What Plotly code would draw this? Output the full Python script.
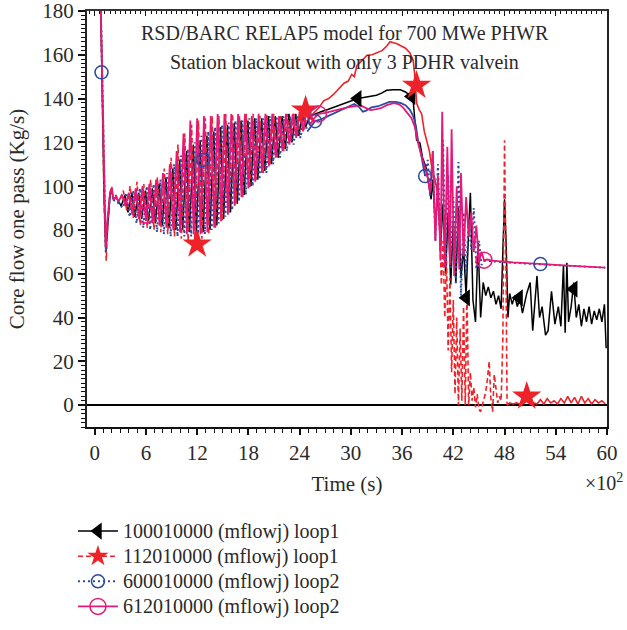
import plotly.graph_objects as go

FONT = "Liberation Serif"
TXT = "#2a2a2a"

# ---------------- data (time in units of 100 s; axis multiplier x10^2) ----------------
x_ticks_dtick = 6
y_ticks_dtick = 20
legend_names = ["100010000 (mflowj) loop1", "112010000 (mflowj) loop1",
                "600010000 (mflowj) loop2", "612010000 (mflowj) loop2"]

# --- 100010000 loop1 (black) ---
black_t_start = [0.7, 0.9, 1.1, 1.3, 1.5, 1.8, 2.0, 2.2, 2.5, 2.8]
black_v_start = [185, 140, 95, 70, 82, 96, 98, 94, 95, 93]
black_t_osc = [3.1, 3.55, 3.9, 4.35, 4.7, 5.15, 5.5, 5.95, 6.3, 6.75, 7.1, 7.55, 7.9, 8.35,
               8.7, 9.15, 9.5, 9.95, 10.3, 10.75, 11.1, 11.55, 11.9, 12.35, 12.7, 13.15,
               13.5, 13.95, 14.3, 14.75, 15.1, 15.55, 15.9, 16.35, 16.7, 17.15, 17.5, 17.95,
               18.3, 18.75, 19.1, 19.55, 19.9, 20.35, 20.7, 21.15, 21.5, 21.95, 22.3, 22.75,
               23.1, 23.55, 23.9, 24.35, 24.7]
black_v_osc = [91, 96, 88, 97, 86, 97, 85, 98, 84, 99, 83, 101, 82, 104, 81, 108, 80, 112,
               80, 116, 79, 119, 79, 121, 79, 123, 80, 125, 82, 127, 85, 128, 88, 129, 92, 130,
               96, 130, 100, 131, 103, 131, 107, 132, 110, 132, 113, 132, 117, 133, 120, 133,
               123, 133, 127]
black_t_late = [25.2, 25.8, 26.5, 27.3, 28.0, 28.8, 29.6, 30.4, 30.8, 31.5, 32.3, 33.0, 33.6,
                34.2, 35.0, 35.8, 36.4, 36.9, 37.3, 37.5, 37.7, 38.1, 38.4, 38.8,
                39.1, 39.4, 39.6, 39.9, 40.2, 40.5, 40.8, 41.1, 41.4, 41.7,
                42.0, 42.3, 42.6, 42.9, 43.2, 43.5, 43.8, 44.0, 44.3, 44.6,
                44.9, 45.2, 45.5, 45.8, 46.1, 46.4, 46.7, 47.0, 47.3, 47.6,
                47.8, 48.0, 48.2, 48.4, 48.6, 48.9, 49.2, 49.5, 49.8, 50.1,
                50.6, 51.0, 51.3, 51.8, 52.1, 52.4, 52.8, 53.1, 53.5, 53.9,
                54.3, 54.6, 54.9, 55.1, 55.3, 55.5, 55.8, 56.1, 56.4, 56.7,
                57.0, 57.3, 57.6, 57.9, 58.2, 58.5, 58.8, 59.1, 59.4, 59.7, 59.9]
black_v_late = [132, 133, 134, 135, 136, 137, 138.5, 139.5, 140, 140.5, 141, 141.5, 142.5,
                143.8, 144, 144, 143, 141.5, 139, 130, 121, 119.6, 113, 108.7,
                101, 94, 103, 82, 98, 72, 92, 60, 88, 55,
                84, 56, 90, 58, 72, 50, 80, 97, 48, 38,
                74, 40, 56, 50, 54, 49, 52, 46, 50, 44,
                70, 94, 72, 40, 51, 46, 50, 45, 49, 42,
                51, 56, 34, 59, 40, 45, 32, 34, 52, 37,
                45, 36, 64, 33, 65, 38, 45, 56, 40, 46,
                36, 44, 38, 45, 37, 43, 39, 44, 38, 46, 26]
black_mk_t = [30.8, 37.1, 43.5, 49.7, 56.1]
black_mk_v = [140, 141, 49, 49, 53]

# --- 112010000 loop1 (red) ---
red_t_start = [0.7, 0.9, 1.1, 1.35, 1.55, 1.8, 2.0, 2.2, 2.5, 2.8]
red_v_start = [185, 140, 92, 66, 84, 97, 100, 94, 96, 92]
red_t_osc = [3.35, 3.75, 4.15, 4.55, 4.95, 5.35, 5.75, 6.15, 6.55, 6.95, 7.35, 7.75, 8.15,
             8.55, 8.95, 9.35, 9.75, 10.15, 10.55, 10.95, 11.35, 11.75, 12.15, 12.55, 12.95,
             13.35, 13.75, 14.15, 14.55, 14.95, 15.35, 15.75, 16.15, 16.55, 16.95, 17.35,
             17.75, 18.15, 18.55, 18.95, 19.35, 19.75, 20.15, 20.55, 20.95, 21.35, 21.75,
             22.15, 22.55, 22.95, 23.35, 23.75, 24.15, 24.55, 24.95]
red_v_osc = [98, 89, 100, 85, 102, 82, 101, 81, 103, 80, 104, 79, 108, 78, 113, 77, 119, 76,
             124, 75, 128, 74, 130, 76, 131, 78, 132, 81, 132, 84, 133, 88, 133, 92, 132, 95,
             133, 99, 133, 103, 132, 106, 133, 110, 133, 113, 132, 116, 133, 120, 133, 123,
             134, 126, 134]
red_t_late = [25.3, 25.8, 26.3, 26.8, 27.4, 28.0, 28.6, 29.2, 29.7, 30.1, 30.4, 30.7, 31.2,
              31.9, 32.5, 33.2, 33.7, 34.2, 34.6, 35.0, 35.4, 35.9, 36.4, 36.9, 37.3, 37.5,
              37.7, 38.0, 38.3, 38.6, 38.9, 39.2, 39.5, 39.8, 40.1]
red_v_late = [132, 134, 136, 139, 140, 142, 144.7, 147, 148, 151, 150, 155, 157, 159.8, 160,
              161, 162, 164, 166, 165.5, 165, 164, 163, 161, 157.5, 150, 138, 135, 133, 125,
              120, 116, 108, 104, 98]
red_t_drop = [40.4, 40.6, 40.8, 41.0, 41.2, 41.4, 41.6, 41.8, 42.0, 42.2,
              42.4, 42.6, 42.8, 43.0, 43.2, 43.4, 43.6, 43.8, 44.0, 44.2,
              44.4, 44.6, 44.8, 45.0, 45.2, 45.4, 45.6, 45.8, 46.0, 46.2,
              46.4, 46.6, 46.8, 47.0, 47.2, 47.4, 47.6, 47.8, 48.0, 48.15, 48.3]
red_v_drop = [82, 55, 75, 40, 68, 25, 58, 15, 48, 5,
              40, 0, 35, 2, 45, 0, 52, 0, 15, 2,
              8, -1, 5, -2, -3, 0, 3, 6, 12, 20,
              3, -3, 14, 8, 1, 4, 2, 30, 121, 70, 0]
red_t_tail = [48.6, 49.0, 49.4, 49.8, 50.2, 50.6, 51.0, 51.4, 51.8, 52.2,
              52.6, 53.0, 53.4, 53.8, 54.2, 54.6, 55.0, 55.4, 55.8, 56.2,
              56.6, 57.0, 57.4, 57.8, 58.2, 58.6, 59.0, 59.4, 59.8]
red_v_tail = [1, 0.5, 1, 0.5, 1.5, 2, 0.5, 1, 0.5, 2.5,
              0.5, 3, 1, 2, 0.5, 3, 1, 4, 1, 3.5,
              0.5, 4, 1, 3, 0.5, 2.5, 1, 2, 0.5]
red_mk_t = [12.0, 24.7, 37.7, 50.6]
red_mk_v = [73.5, 134.7, 146, 4]

# --- 600010000 loop2 (blue) ---
blue_t_start = [0.7, 0.9, 1.1, 1.3, 1.5, 1.8, 2.0, 2.2, 2.5, 2.8]
blue_v_start = [185, 150, 100, 70, 83, 96, 98, 93, 95, 92]
blue_t_osc = [3.3, 3.7, 4.1, 4.5, 4.9, 5.3, 5.7, 6.1, 6.5, 6.9, 7.3, 7.7, 8.1, 8.5, 8.9, 9.3,
              9.7, 10.1, 10.5, 10.9, 11.3, 11.7, 12.1, 12.5, 12.9, 13.3, 13.7, 14.1, 14.5,
              14.9, 15.3, 15.7, 16.1, 16.5, 16.9, 17.3, 17.7, 18.1, 18.5, 18.9, 19.3, 19.7,
              20.1, 20.5, 20.9, 21.3, 21.7, 22.1, 22.5, 22.9, 23.3, 23.7, 24.1, 24.5, 24.9]
blue_v_osc = [90, 97, 86, 98, 83, 99, 81, 100, 80, 101, 79, 103, 78, 106, 77, 110, 77, 114,
              77, 117, 77, 120, 77, 123, 78, 125, 80, 127, 83, 128, 86, 129, 89, 130, 93, 130,
              96, 131, 100, 131, 103, 131, 106, 132, 110, 132, 113, 132, 116, 132, 119, 132,
              122, 132, 125]
blue_t_late = [25.3, 25.8, 26.5, 27.3, 28.0, 28.8, 29.6, 30.4, 31.0, 31.4, 31.8, 32.4, 33.2,
               33.8, 34.5, 35.2, 35.8, 36.4, 36.9, 37.3, 37.6, 37.9, 38.2, 38.7]
blue_v_late = [127, 129.7, 130.5, 132, 133, 134.5, 136, 137.5, 136, 134, 134.5, 136, 136.5,
               137.5, 138.5, 138.5, 138, 137, 135, 132, 128, 120, 115, 104.6]
blue_t_drop = [39.0, 39.3, 39.6, 39.9, 40.2, 40.5, 40.8, 41.1, 41.4, 41.7,
               42.0, 42.3, 42.6, 42.9, 43.2, 43.5, 43.8, 44.1, 44.4, 44.7, 45.0, 45.3, 45.6]
blue_v_drop = [112, 95, 116, 75, 110, 70, 121, 63, 105, 62,
               95, 55, 111, 50, 88, 60, 85, 71, 90, 62, 75, 64, 66]
blue_t_tail = [46.0, 47.0, 48.0, 49.0, 50.0, 51.0, 52.2, 53.0, 54.0, 55.0, 56.0, 57.0, 58.0,
               59.0, 59.8]
blue_v_tail = [65.8, 65.5, 65.2, 64.9, 64.7, 64.5, 64.3, 64.1, 63.9, 63.7, 63.5, 63.3, 63.1,
               62.9, 62.8]
blue_mk_t = [0.8, 12.7, 25.8, 38.7, 52.2]
blue_mk_v = [152, 112, 129.7, 104.6, 64.4]

# --- 612010000 loop2 (pink) ---
pink_t_start = [0.7, 0.9, 1.1, 1.3, 1.5, 1.8, 2.0, 2.2, 2.5, 2.8]
pink_v_start = [185, 145, 98, 72, 85, 97, 99, 94, 95, 93]
pink_t_osc = [3.2, 3.6, 4.0, 4.4, 4.8, 5.2, 5.6, 6.0, 6.4, 6.8, 7.2, 7.6, 8.0, 8.4, 8.8, 9.2,
              9.6, 10.0, 10.4, 10.8, 11.2, 11.6, 12.0, 12.4, 12.8, 13.2, 13.6, 14.0, 14.4,
              14.8, 15.2, 15.6, 16.0, 16.4, 16.8, 17.2, 17.6, 18.0, 18.4, 18.8, 19.2, 19.6,
              20.0, 20.4, 20.8, 21.2, 21.6, 22.0, 22.4, 22.8, 23.2, 23.6, 24.0, 24.4, 24.8, 25.2]
pink_v_osc = [96, 91, 97, 87, 99, 85, 100, 84, 101, 83, 103, 82, 106, 81, 110, 80, 116, 79,
              124, 78, 130, 78, 131, 78, 132, 79, 132, 81, 133, 84, 133, 87, 133, 91, 133, 95,
              133, 99, 132, 102, 133, 106, 133, 109, 133, 113, 132, 116, 133, 119, 133, 122,
              134, 125, 134, 128]
pink_t_late = [25.7, 26.2, 27.0, 28.0, 28.8, 29.6, 30.4, 31.1, 31.6, 32.3, 33.0, 33.5, 34.2,
               35.0, 35.6, 36.1, 36.7, 37.1, 37.5, 37.8, 38.2, 38.6, 39.0,
               39.3, 39.6, 39.9, 40.2, 40.5, 40.7, 41.0, 41.3, 41.6, 41.8,
               42.1, 42.4, 42.7, 42.9, 43.2, 43.5, 43.8, 44.1, 44.4, 44.7, 45.0, 45.3, 45.6,
               46.0, 46.5, 47.0, 48.0, 49.0, 50.0, 51.0, 52.0, 53.0, 54.0, 55.0, 56.0, 57.0,
               58.0, 59.0, 59.8]
pink_v_late = [131, 133, 133.5, 134.5, 135.5, 136, 136.5, 137, 136, 134.7, 135.2, 135.6, 137,
               137.9, 137.5, 136, 133, 131, 127, 121, 115, 110, 104,
               97, 116, 75, 105, 66, 134, 63, 118, 64, 126,
               59, 100, 62, 106, 68, 95, 77, 88, 70, 82, 65, 70, 66.2,
               66.5, 66, 65.8, 65.5, 65.2, 65, 64.7, 64.5, 64.3, 64, 63.8, 63.6, 63.4,
               63.2, 63.1, 62.8]
pink_mk_t = [6.0, 26.2, 45.6]
pink_mk_v = [86.8, 133, 66.2]

# ---------------- styles ----------------
C_BLACK = "#000000"
C_RED = "#ee2229"
C_BLUE = "#2b4aa0"
C_PINK = "#e5197a"
RED_DASH = "5px,3px"
BLUE_DOT = "2px,3px"


def join(*parts):
    t, v = [], []
    for pt, pv in parts:
        t += list(pt)
        v += list(pv)
    return t, v


def bridge(prev, nxt):
    # start the next segment from the last point of the previous one
    return [prev[0][-1]] + list(nxt[0]), [prev[1][-1]] + list(nxt[1])


def line(tv, color, width, dash="solid", xaxis="x"):
    return go.Scatter(x=tv[0], y=tv[1], mode="lines", xaxis=xaxis,
                      line=dict(color=color, width=width, dash=dash),
                      showlegend=False, hoverinfo="skip")


fig = go.Figure()

# black
fig.add_trace(line(join((black_t_start, black_v_start), (black_t_osc, black_v_osc),
                        (black_t_late, black_v_late)), C_BLACK, 1.5))

# red
r1 = join((red_t_start, red_v_start), (red_t_osc, red_v_osc))
r2 = bridge(r1, (red_t_late, red_v_late))
r3 = bridge(r2, (red_t_drop, red_v_drop))
r4 = bridge(r3, (red_t_tail, red_v_tail))
fig.add_trace(line(r1, C_RED, 1.6, RED_DASH))
fig.add_trace(line(r2, C_RED, 1.6))
fig.add_trace(line(r3, C_RED, 1.6, RED_DASH))
fig.add_trace(line(r4, C_RED, 1.6))

# blue
b1 = join((blue_t_start, blue_v_start), (blue_t_osc, blue_v_osc))
b2 = bridge(b1, (blue_t_late, blue_v_late))
b3 = bridge(b2, (blue_t_drop, blue_v_drop))
b4 = bridge(b3, (blue_t_tail, blue_v_tail))
fig.add_trace(line(b1, C_BLUE, 2, BLUE_DOT))
fig.add_trace(line(b2, C_BLUE, 1.8))
fig.add_trace(line(b3, C_BLUE, 2, BLUE_DOT))
fig.add_trace(line(b4, C_BLUE, 1.8, BLUE_DOT))

# pink
fig.add_trace(line(join((pink_t_start, pink_v_start), (pink_t_osc, pink_v_osc),
                        (pink_t_late, pink_v_late)), C_PINK, 1.8))

# markers
mk_black = dict(symbol="triangle-left", size=15, color=C_BLACK)
mk_red = dict(symbol="star", size=22, color=C_RED)
mk_blue = dict(symbol="circle-open", size=13, color=C_BLUE, line=dict(width=1.5))
mk_pink = dict(symbol="circle-open", size=16, color=C_PINK, line=dict(width=1.5))
for mt, mv, mk in [(black_mk_t, black_mk_v, mk_black), (red_mk_t, red_mk_v, mk_red),
                   (blue_mk_t, blue_mk_v, mk_blue), (pink_mk_t, pink_mk_v, mk_pink)]:
    fig.add_trace(go.Scatter(x=mt, y=mv, mode="markers", marker=mk, showlegend=False,
                             hoverinfo="skip", cliponaxis=False))

# legend-only entries
for name, color, dash, width, mk in [
        (legend_names[0], C_BLACK, "solid", 1.5, mk_black),
        (legend_names[1], C_RED, RED_DASH, 1.6, mk_red),
        (legend_names[2], C_BLUE, BLUE_DOT, 2, mk_blue),
        (legend_names[3], C_PINK, "solid", 1.8, mk_pink)]:
    fig.add_trace(go.Scatter(x=[None], y=[None], mode="lines+markers",
                             name='<span style="font-size:20px">' + name + "</span>",
                             line=dict(color=color, width=width, dash=dash), marker=mk))

# invisible trace to carry the top axis
fig.add_trace(go.Scatter(x=[0], y=[None], xaxis="x2", mode="lines", showlegend=False,
                         hoverinfo="skip"))

tickfont = dict(family=FONT, size=21, color=TXT)
fig.update_layout(
    width=627, height=630,
    margin=dict(l=87, r=20, t=11, b=203, autoexpand=False),
    paper_bgcolor="white", plot_bgcolor="white",
    font=dict(family=FONT, size=20, color=TXT),
    xaxis=dict(range=[-0.9, 60], tickmode="linear", tick0=0, dtick=x_ticks_dtick,
               ticks="outside", ticklen=6, tickwidth=1.5, tickcolor="#111",
               minor=dict(tickmode="linear", tick0=0, dtick=1, ticks="outside", ticklen=3.5,
                          tickwidth=1.2, tickcolor="#111"),
               showline=True, linecolor="#111", linewidth=2, showgrid=False, zeroline=False,
               tickfont=tickfont, automargin=False, ticklabeloverflow="allow",
               title=dict(text="Time (s)", font=dict(family=FONT, size=21, color=TXT),
                          standoff=12)),
    xaxis2=dict(overlaying="x", side="top", range=[-0.9, 60], tickmode="linear", tick0=0,
                dtick=x_ticks_dtick, ticks="inside", ticklen=5, tickwidth=1.2,
                tickcolor="#111",
                minor=dict(tickmode="linear", tick0=0, dtick=0.6, ticks="inside",
                           ticklen=3, tickwidth=1, tickcolor="#111"),
                showticklabels=False, showline=True, linecolor="#333", linewidth=1.5,
                showgrid=False, zeroline=False, automargin=False),
    yaxis=dict(range=[-10, 180], tickmode="linear", tick0=0, dtick=y_ticks_dtick,
               ticks="outside", ticklen=7, tickwidth=1.5, tickcolor="#111",
               minor=dict(tickmode="linear", tick0=0, dtick=2, ticks="outside", ticklen=4,
                          tickwidth=1, tickcolor="#111"),
               showline=True, mirror=True, linecolor="#222", linewidth=2, showgrid=False,
               zeroline=True, zerolinecolor="#000", zerolinewidth=2,
               tickfont=tickfont, automargin=False, ticklabeloverflow="allow",
               title=dict(text="Core flow one pass (Kg/s)",
                          font=dict(family=FONT, size=21, color=TXT), standoff=12)),
    legend=dict(x=-0.027, y=-0.208, xanchor="left", yanchor="top",
                font=dict(family=FONT, size=17, color=TXT), bgcolor="rgba(0,0,0,0)",
                tracegroupgap=0, itemwidth=40),
    annotations=[
        dict(text="RSD/BARC RELAP5 model for 700 MWe PHWR", xref="paper", yref="paper",
             x=0.496, y=0.947, xanchor="center", yanchor="middle", showarrow=False,
             font=dict(family=FONT, size=20, color=TXT)),
        dict(text="Station blackout with only 3 PDHR valvein", xref="paper", yref="paper",
             x=0.496, y=0.877, xanchor="center", yanchor="middle", showarrow=False,
             font=dict(family=FONT, size=20, color=TXT)),
        dict(text="×10<sup>2</sup>", xref="paper", yref="paper", x=0.994, y=-0.132,
             xanchor="center", yanchor="middle", showarrow=False,
             font=dict(family=FONT, size=20, color=TXT)),
    ],
)

# the page's default 8px body margin would shift the figure; remove it
fig.write_html("out.html",
               config={"displayModeBar": False},
               post_script="document.body.style.margin='0';"
                           "document.documentElement.style.overflow='hidden';")
